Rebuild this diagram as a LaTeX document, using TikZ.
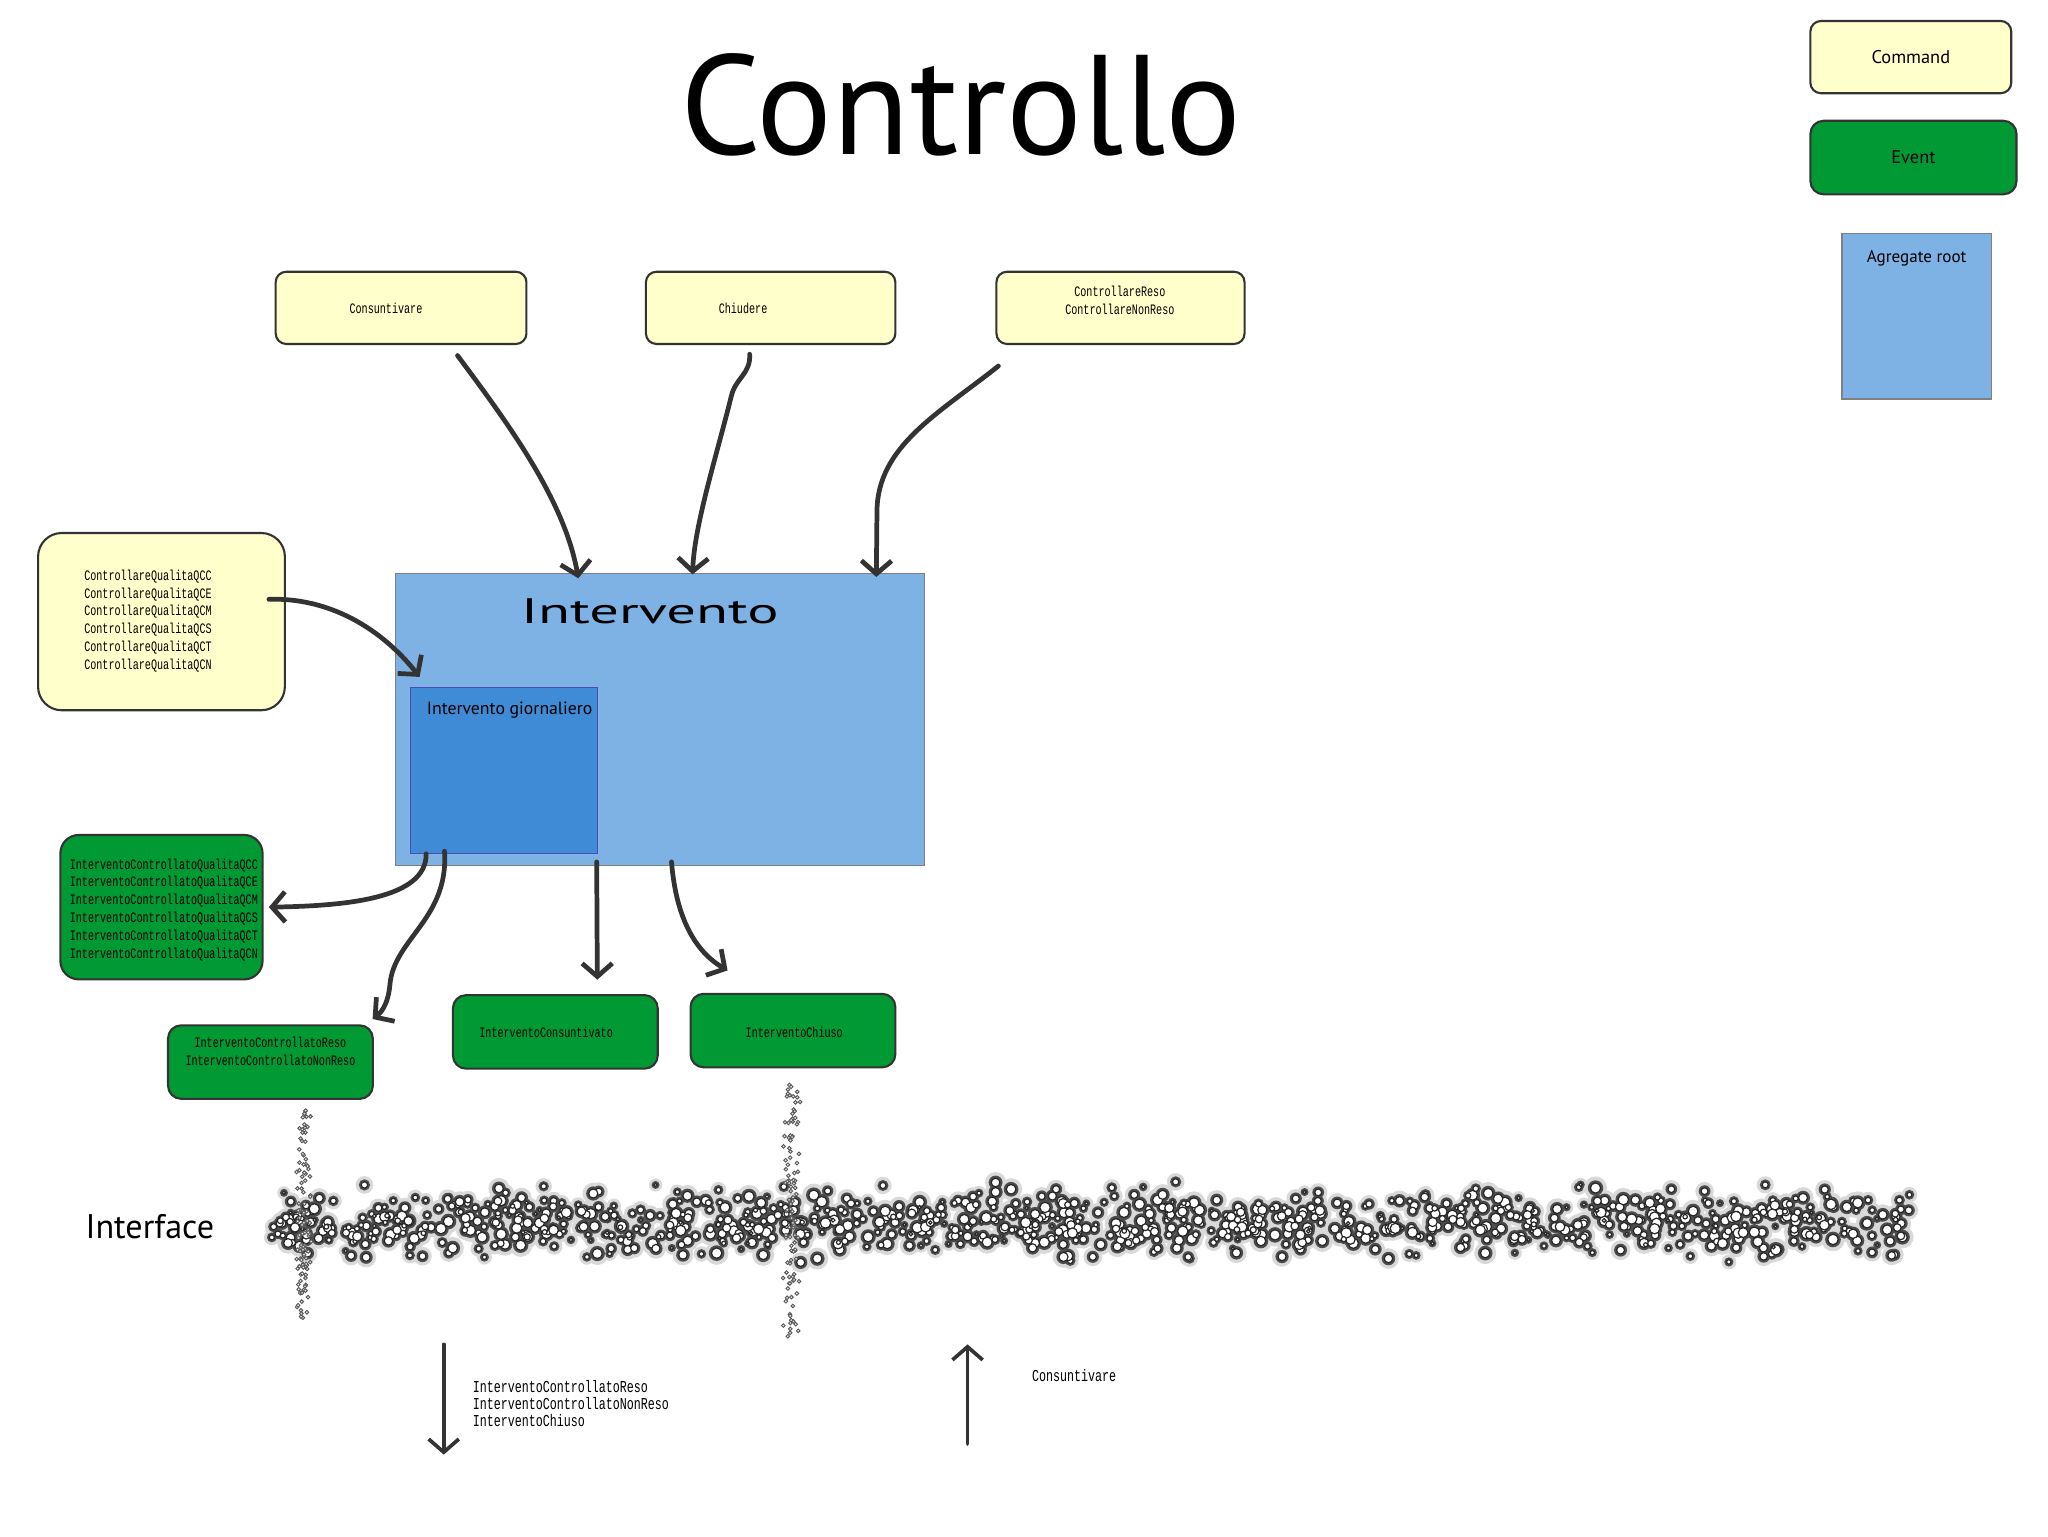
\documentclass[tikz,border=0pt]{standalone}
\usepackage{fontspec}
\setmainfont{PT Sans}
\newfontfamily\boxfont[FakeStretch=0.7]{Liberation Mono}
\newfontfamily\widefont[FakeStretch=1.65]{PT Sans}
\usetikzlibrary{arrows.meta,positioning}
\definecolor{cmdyellow}{HTML}{FFFFCC}
\definecolor{evgreen}{HTML}{009933}
\definecolor{aggblue}{HTML}{7FB2E4}
\definecolor{dayblue}{HTML}{3F8BD6}
\definecolor{pen}{HTML}{333333}
\newcommand{\cmdcol}{cmdyellow}
\newcommand{\evcol}{evgreen}
\tikzset{
  Command/.style = {draw=pen, line width=1.6pt, fill=\cmdcol, rounded corners=8pt},
  Event/.style = {draw=pen, line width=1.6pt, fill=\evcol, rounded corners=10pt},
  Aggregate/.style = {draw=gray, line width=1pt, fill=aggblue},
  boxtxt/.style = {font=\boxfont\fontsize{11}{13.6}\selectfont, inner sep=0pt},
  penarrow/.style = {draw=pen, line width=3.6pt, line cap=round, line join=round,
    -{Straight Barb[length=10pt, width=23pt]}},
  blob/.style = {draw=gray!30!black, line width=0.9pt, fill=white}
}

\begin{document}
\begin{tikzpicture}[x=1pt, y=-1pt]
        \useasboundingbox (0,0) rectangle (1560,1170);
        \node[anchor=base, font=\fontsize{108}{115}\selectfont] (title) at (732,118) {Controllo};
        %legend
        \node[Command, minimum width=153pt, minimum height=55pt, font=\fontsize{14}{16}\selectfont] (legcmd) at (1455.5,43.5) {Command};
        \node[Event, minimum width=157pt, minimum height=56pt, font=\fontsize{14}{16}\selectfont] (legev) at (1457.5,120) {Event};
        \node[Aggregate, minimum width=114pt, minimum height=126pt] (legagg) at (1460,241) {};
        \node[below=13pt of legagg.north, inner sep=0pt, font=\fontsize{13}{15}\selectfont] (legaggT) {Agregate root};
        %commands
        \node[Command, minimum width=191pt, minimum height=55pt] (cons) at (305.5,234.5) {};
        \node[boxtxt] (consT) at (294,235) {Consuntivare};
        \node[Command, minimum width=190pt, minimum height=55pt] (chiud) at (587,234.5) {};
        \node[boxtxt] (chiudT) at (566,235) {Chiudere};
        \node[Command, minimum width=189pt, minimum height=55pt] (reso) at (853.5,234.5) {};
        \node[boxtxt, align=center] (resoT) at (853,229) {ControllareReso\\ControllareNonReso};
        \node[Command, rounded corners=18pt, minimum width=188pt, minimum height=135pt] (qc) at (123,473.5) {};
        \node[boxtxt, align=left, anchor=west] (qcT) at (64,473) {ControllareQualitaQCC\\ControllareQualitaQCE\\ControllareQualitaQCM\\ControllareQualitaQCS\\ControllareQualitaQCT\\ControllareQualitaQCN};
        %aggregate
        \node[Aggregate, minimum width=403pt, minimum height=222pt] (interv) at (502.5,548) {};
        \node[font=\widefont\fontsize{27}{30}\selectfont] (intervT) at (495,466) {Intervento};
        \node[draw=gray!60!blue, line width=0.8pt, fill=dayblue, minimum width=142pt, minimum height=126pt] (giorn) at (384,587) {};
        \node[anchor=west, inner sep=0pt, font=\fontsize{13.5}{15}\selectfont] (giornT) at (325,541) {Intervento giornaliero};
        %events
        \node[Event, rounded corners=14pt, minimum width=154pt, minimum height=110pt] (qcev) at (123,691) {};
        \node[boxtxt, align=left, anchor=west] (qcevT) at (53,693) {InterventoControllatoQualitaQCC\\InterventoControllatoQualitaQCE\\InterventoControllatoQualitaQCM\\InterventoControllatoQualitaQCS\\InterventoControllatoQualitaQCT\\InterventoControllatoQualitaQCN};
        \node[Event, minimum width=156pt, minimum height=56pt] (resoev) at (206,809) {};
        \node[boxtxt, align=center] (resoevT) at (206,801) {InterventoControllatoReso\\InterventoControllatoNonReso};
        \node[Event, minimum width=156pt, minimum height=56pt] (consev) at (423,786) {};
        \node[boxtxt] (consevT) at (416,786) {InterventoConsuntivato};
        \node[Event, minimum width=156pt, minimum height=56pt] (chiusev) at (604,785) {};
        \node[boxtxt] (chiusevT) at (605,786) {InterventoChiuso};
        %arrows
        \draw[penarrow] ([xshift=43pt,yshift=-8pt]cons.south) .. controls (385,320) and (430,380) .. ([xshift=140pt,yshift=-4pt]interv.north west);
        \draw[penarrow] ([xshift=-16pt,yshift=-7pt]chiud.south) .. controls (572,285) and (560,288) .. (557,302) .. controls (545,350) and (529,400) .. ([xshift=227pt,yshift=-1pt]interv.north west);
        \draw[penarrow] ([xshift=-93pt,yshift=-16pt]reso.south) .. controls (715,315) and (668,340) .. (668,390) -- ([xshift=-37pt,yshift=-3pt]interv.north east);
        \draw[penarrow] ([xshift=-13pt,yshift=17pt]qc.east) .. controls (250,455) and (290,478) .. ([xshift=7pt,yshift=8pt]giorn.north west);
        \draw[penarrow] ([xshift=12pt]giorn.south west) .. controls (325,685) and (262,690) .. ([xshift=4pt]qcev.east);
        \draw[penarrow] ([xshift=26pt,yshift=2pt]giorn.south west) .. controls (342,700) and (300,715) .. (297,750) .. controls (296,762) and (292,770) .. ([xshift=-1pt,yshift=4pt]resoev.north east);
        \draw[penarrow] ([xshift=154pt,yshift=3pt]interv.south west) -- ([xshift=32pt,yshift=11pt]consev.north);
        \draw[penarrow] ([xshift=211pt,yshift=3pt]interv.south west) .. controls (515,700) and (530,725) .. ([xshift=29pt,yshift=17pt]chiusev.north west);
        %interface
        \node[anchor=west, inner sep=0pt, font=\fontsize{26}{30}\selectfont] (iface) at (65,934) {Interface};
        \pgfmathsetseed{7}
        \foreach \k in {1,...,1100}{
          \pgfmathsetmacro\nx{207+1250*rnd}
          \pgfmathsetmacro\ny{932+(rnd+rnd+rnd-1.5)*24}
          \pgfmathsetmacro\nh{5+4*rnd}
          \fill[gray!30] (\nx,\ny) circle[radius=\nh];
        }
        \pgfmathsetseed{7}
        \foreach \k in {1,...,1100}{
          \pgfmathsetmacro\nx{207+1250*rnd}
          \pgfmathsetmacro\ny{932+(rnd+rnd+rnd-1.5)*24}
          \pgfmathsetmacro\nh{3+3*rnd}
          \fill[gray!60!black] (\nx,\ny) circle[radius=\nh];
        }
        \pgfmathsetseed{7}
        \foreach \k in {1,...,1100}{
          \pgfmathsetmacro\nx{207+1250*rnd}
          \pgfmathsetmacro\ny{932+(rnd+rnd+rnd-1.5)*24}
          \pgfmathsetmacro\nr{1.2+2.8*rnd}
          \draw[blob] (\nx,\ny) circle[radius=\nr];
        }
        \foreach \sx/\sa/\sb in {231/842/1005, 603/823/1018}{
          \foreach \k in {1,...,110}{
            \pgfmathsetmacro\nx{\sx+3.5*(rnd+rnd-1)*2}
            \pgfmathsetmacro\ny{\sa+(\sb-\sa)*rnd}
            \draw[gray!70!black, line width=0.7pt, fill=gray!20] (\nx,\ny) circle[radius=1.4];
          }
        }
        %flow
        \coordinate (dnA) at (338,1024);
        \coordinate (dnB) at (338,1108);
        \coordinate (upA) at (737,1100);
        \coordinate (upB) at (737,1024);
        \draw[penarrow, line width=2.8pt] (dnA) -- (dnB);
        \draw[penarrow, line width=2.8pt] (upA) -- (upB);
        \node[boxtxt, font=\boxfont\fontsize{12.7}{13}\selectfont, align=left, anchor=west] (outT) at (360,1069) {InterventoControllatoReso\\InterventoControllatoNonReso\\InterventoChiuso};
        \node[boxtxt, font=\boxfont\fontsize{12.7}{13}\selectfont, anchor=west] (inT) at (786,1048) {Consuntivare};
\end{tikzpicture}
\end{document}
